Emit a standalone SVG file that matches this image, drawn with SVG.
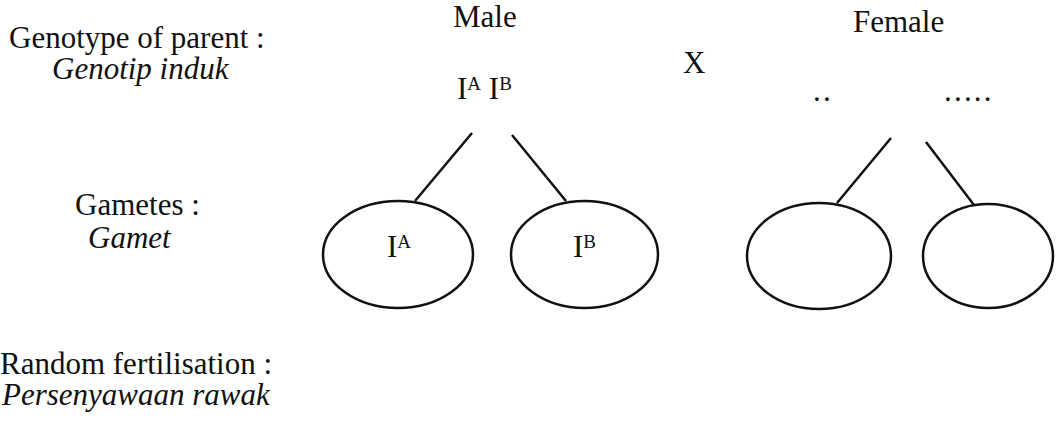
<svg xmlns="http://www.w3.org/2000/svg" width="1058" height="423" viewBox="0 0 1058 423">
<style>
text{font-family:"Liberation Serif","Times New Roman",serif;font-size:31px;fill:#111}
.it{font-style:italic}
.sup{font-size:19px}
.gam{fill:none;stroke:#111;stroke-width:2.5}
.con{stroke:#111;stroke-width:2.5;fill:none}
</style>
<rect width="1058" height="423" fill="#ffffff"/>
<g id="labels">
<text x="9" y="48">Genotype of parent :</text>
<text x="52" y="79" class="it">Genotip induk</text>
<text x="75" y="215">Gametes :</text>
<text x="88" y="248" class="it">Gamet</text>
<text x="0" y="374">Random fertilisation :</text>
<text x="2" y="405" class="it">Persenyawaan rawak</text>
</g>
<g id="male">
<text x="453" y="27">Male</text>
<text x="457" y="99">I<tspan class="sup" dy="-9">A</tspan><tspan dy="9"> I</tspan><tspan class="sup" dy="-9">B</tspan></text>
</g>
<g id="cross"><text x="683" y="73">X</text></g>
<g id="female">
<text x="853" y="32">Female</text>
<text x="813" y="101" letter-spacing="2.2">..</text>
<text x="944" y="101" letter-spacing="2.2">.....</text>
</g>
<g id="connectors">
<line class="con" x1="472" y1="133" x2="415" y2="201"/>
<line class="con" x1="512" y1="135" x2="566" y2="201"/>
<line class="con" x1="891" y1="138" x2="837" y2="203"/>
<line class="con" x1="926" y1="142" x2="974" y2="205"/>
</g>
<g id="gamete-IA">
<ellipse class="gam" cx="398" cy="254.5" rx="75" ry="53.5"/>
<text x="387" y="257">I<tspan class="sup" dy="-9">A</tspan></text>
</g>
<g id="gamete-IB">
<ellipse class="gam" cx="584.5" cy="254.5" rx="73.5" ry="53.5"/>
<text x="573" y="257">I<tspan class="sup" dy="-9">B</tspan></text>
</g>
<g id="gamete-F1">
<ellipse class="gam" cx="819" cy="256" rx="72" ry="53"/>
</g>
<g id="gamete-F2">
<ellipse class="gam" cx="988" cy="256" rx="65" ry="52"/>
</g>
</svg>
